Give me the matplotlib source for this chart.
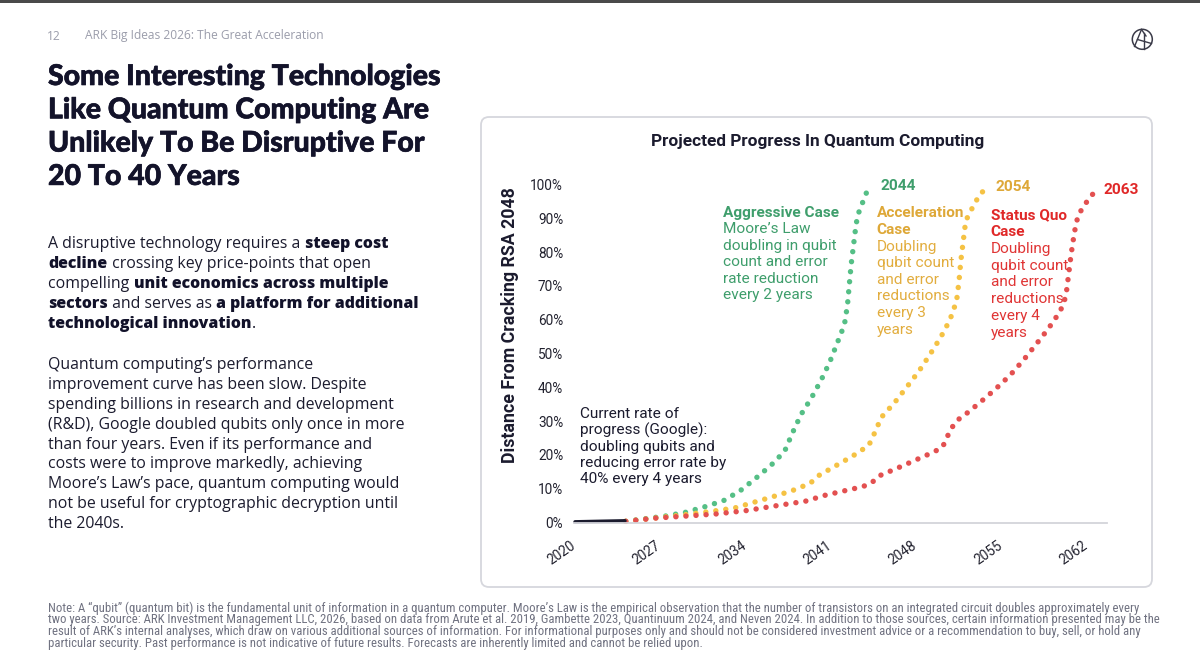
import matplotlib
matplotlib.use("Agg")
import matplotlib.pyplot as plt
import matplotlib.transforms as mtransforms
import matplotlib.patheffects as pe
from matplotlib import font_manager as fm
from matplotlib.patches import FancyBboxPatch, Circle, Rectangle
from matplotlib.lines import Line2D
from matplotlib.ticker import FuncFormatter

# ---- data (year, % distance from cracking RSA 2048) ----
black_years = [2020, 2022, 2024.1]
black_vals = [0.2, 0.35, 0.5]

green_years = [2024.16, 2027.4, 2029.05, 2030.6, 2032.2, 2033.55, 2034.8, 2036.1,
               2037.2, 2037.85, 2038.55, 2039.4, 2040.2, 2040.9, 2041.5, 2042.1,
               2042.35, 2042.5, 2042.65, 2042.85, 2043.05, 2043.2, 2043.5, 2043.8, 2044.1]
green_vals = [0.35, 1.9, 3.0, 4.6, 6.5, 9.4, 13.0, 17.0, 21.1, 26.6, 32.0, 36.9,
              42.2, 47.5, 53.0, 58.5, 64.3, 70.3, 76.2, 82.1, 88.0, 91.0, 93.8, 96.6, 99.3]

orange_years = [2024.16, 2027.0, 2029.0, 2031.4, 2033.1, 2034.6, 2036.2, 2037.8, 2039.3,
                2039.9, 2041.3, 2042.75, 2044.1, 2044.45, 2044.8, 2045.1, 2046.2, 2047.2,
                2048.2, 2049.1, 2050.0, 2050.75, 2051.3, 2051.5, 2051.65, 2051.85, 2052.05,
                2052.4, 2052.8, 2053.2, 2053.8]
orange_vals = [0.35, 1.5, 2.3, 3.4, 4.3, 5.9, 7.6, 9.4, 11.6, 13.7, 16.6, 19.6, 22.8,
               25.5, 28.3, 31.0, 35.4, 40.0, 44.7, 49.6, 54.8, 59.9, 65.5, 71.4, 77.4,
               83.3, 89.2, 91.8, 94.4, 97.1, 99.0]

red_years = [2024.16, 2026.6, 2029.1, 2031.5, 2034.0, 2036.4, 2038.9, 2040.45, 2042.0,
             2043.6, 2044.35, 2044.95, 2046.45, 2047.95, 2049.45, 2050.15, 2050.5, 2050.85,
             2051.3, 2052.0, 2053.25, 2054.5, 2055.7, 2056.8, 2057.8, 2058.8, 2059.75,
             2060.1, 2060.3, 2060.5, 2060.7, 2060.95, 2061.1, 2061.3, 2061.75, 2062.2, 2062.75]
red_vals = [0.35, 1.3, 1.9, 2.5, 3.5, 4.9, 6.3, 8.0, 9.3, 10.6, 11.8, 13.8, 16.1, 18.5,
            20.9, 22.3, 25.1, 27.7, 30.1, 31.9, 35.6, 39.5, 43.6, 48.1, 52.6, 57.2, 62.2,
            64.9, 67.8, 73.6, 79.4, 85.4, 88.3, 91.1, 93.6, 96.1, 98.2]

x_ticks = list(range(2020, 2063, 7))
y_ticks = list(range(0, 101, 10))

end_labels = ["2044", "2054", "2063"]

aggr_head = ["Aggressive Case"]
aggr_body = ["Moore\u2019s Law", "doubling in qubit", "count and error",
             "rate reduction", "every 2 years"]
accel_head = ["Acceleration", "Case"]
accel_body = ["Doubling", "qubit count", "and error", "reductions", "every 3", "years"]
sq_head = ["Status Quo", "Case"]
sq_body = ["Doubling", "qubit count", "and error", "reductions", "every 4", "years"]
current_lines = ["Current rate of", "progress (Google):", "doubling qubits and",
                 "reducing error rate by", "40% every 4 years"]

title_lines = ["Some Interesting Technologies", "Like Quantum Computing Are",
               "Unlikely To Be Disruptive For", "20 To 40 Years"]

para1 = [
    [("A disruptive technology requires a ", False), ("steep cost", True)],
    [("decline", True), (" crossing key price-points that open", False)],
    [("compelling ", False), ("unit economics across multiple", True)],
    [("sectors", True), (" and serves as ", False), ("a platform for additional", True)],
    [("technological innovation", True), (".", False)],
]
para2 = ["Quantum computing\u2019s performance",
         "improvement curve has been slow. Despite",
         "spending billions in research and development",
         "(R&D), Google doubled qubits only once in more",
         "than four years. Even if its performance and",
         "costs were to improve markedly, achieving",
         "Moore\u2019s Law\u2019s pace, quantum computing would",
         "not be useful for cryptographic decryption until",
         "the 2040s."]

footnote = [
    "Note: A \u201cqubit\u201d (quantum bit) is the fundamental unit of information in a quantum computer. Moore\u2019s Law is the empirical observation that the number of transistors on an integrated circuit doubles approximately every",
    "two years. Source: ARK Investment Management LLC, 2026, based on data from Arute et al. 2019, Gambette 2023, Quantinuum 2024, and Neven 2024. In addition to those sources, certain information presented may be the",
    "result of ARK\u2019s internal analyses, which draw on various additional sources of information. For informational purposes only and should not be considered investment advice or a recommendation to buy, sell, or hold any",
    "particular security. Past performance is not indicative of future results. Forecasts are inherently limited and cannot be relied upon.",
]

# ---- colours / fonts ----
DARK = "#1b1b2e"
GREEN, GREEN_T = "#55bf86", "#3f9e6c"
ORANGE, ORANGE_T = "#f5c244", "#e2ad3e"
RED, RED_T = "#e35050", "#e03535"
GREY = "#9b9dab"

names = {f.name for f in fm.fontManager.ttflist}


def pick(*cands):
    for c in cands:
        if c in names:
            return c
    return "DejaVu Sans"


TITLE_FONT = pick("Lato", "Inter", "Roboto")
BODY_FONT = pick("Open Sans", "Noto Sans", "Roboto")
CHART_FONT = pick("Roboto", "Open Sans")
NARROW_FONT = pick("Roboto Condensed", "Liberation Sans Narrow", "Open Sans Condensed",
                   "DejaVu Sans Condensed", "Roboto")

W, H = 1200, 671
fig = plt.figure(figsize=(W / 100, H / 100), dpi=100)
fig.patch.set_facecolor("white")
renderer = fig.canvas.get_renderer()


def put(x, y, s, **kw):
    kw.setdefault("va", "baseline")
    return fig.text(x / W, 1 - y / H, s, **kw)


def fit(t, target, vertical=False):
    bb = t.get_window_extent(renderer)
    cur = bb.height if vertical else bb.width
    t.set_fontsize(t.get_fontsize() * target / cur)
    return t.get_fontsize()


def advance(s, size, family, weight):
    a = fig.text(0, 0, "|" + s + "|", fontsize=size, family=family, fontweight=weight)
    b = fig.text(0, 0, "||", fontsize=size, family=family, fontweight=weight)
    w = a.get_window_extent(renderer).width - b.get_window_extent(renderer).width
    a.remove()
    b.remove()
    return w


# top rule and logo
ident = mtransforms.IdentityTransform()
fig.add_artist(Rectangle((0, H - 2.5), W, 2.5, transform=ident, color="#4a4a4a", lw=0))
fig.add_artist(Circle((1142.3, H - 39.3), 10, transform=ident, fill=False, ec="#3a3a48", lw=1.1))
for (x1, y1), (x2, y2) in [((1141.5, 29.5), (1134.5, 46.5)), ((1143.5, 33), (1143.5, 49.3)),
                           ((1137.5, 39.5), (1151.5, 43.5)), ((1141.5, 29.5), (1146, 36))]:
    fig.add_artist(Line2D([x1, x2], [H - y1, H - y2], transform=ident, color="#3a3a48", lw=1.0))

# header
hdr = put(85, 39.5, "ARK Big Ideas 2026: The Great Acceleration", fontsize=9,
          family=BODY_FONT, color=GREY)
hsize = fit(hdr, 241)
put(47, 39.5, "12", fontsize=hsize, family=BODY_FONT, color=GREY)

# title (a thin stroke thickens the glyphs slightly)
heavy = [pe.withStroke(linewidth=0.45, foreground="#13132a")]
t0 = put(48, 85, title_lines[0], fontsize=21, family=TITLE_FONT, fontweight="black",
         color="#13132a")
tsize = fit(t0, 392)
t0.set_path_effects(heavy)
for i, line in enumerate(title_lines[1:], start=1):
    put(48, 85 + i * 33.3, line, fontsize=tsize, family=TITLE_FONT, fontweight="black",
        color="#13132a", path_effects=heavy)

# body text
probe = put(48, 389, para2[1], fontsize=11, family=BODY_FONT, color=DARK)
bsize = fit(probe, 318)
probe.remove()
for i, segs in enumerate(para1):
    cx = 48.5
    for s, bold in segs:
        wt = "heavy" if bold else "normal"
        put(cx, 248.3 + i * 20, s, fontsize=bsize, family=BODY_FONT, fontweight=wt,
            color="#12122a" if bold else DARK)
        cx += advance(s, bsize, BODY_FONT, wt)
for i, line in enumerate(para2):
    put(48.5, 369 + i * 19.9, line, fontsize=bsize, family=BODY_FONT, color=DARK)

# footnote
f0 = put(48, 612, footnote[0], fontsize=7.5, family=NARROW_FONT, color="#707281")
fsize = min(fit(f0, 1092), 9.4)
f0.set_fontsize(fsize)
for i, line in enumerate(footnote[1:], start=1):
    put(48, 612 + i * 11.5, line, fontsize=fsize, family=NARROW_FONT, color="#707281")

# chart panel
fig.add_artist(FancyBboxPatch((481, H - 587), 1152 - 481, 587 - 117,
                              boxstyle="round,pad=0,rounding_size=8", transform=ident,
                              fc="white", ec="#d6d7dd", lw=1.3, zorder=-5))

ct = put(818, 146, "Projected Progress In Quantum Computing", fontsize=11, family=CHART_FONT,
         fontweight="bold", color=DARK, ha="center")
fit(ct, 334)

yl = fig.text(510 / W, 1 - 325 / H, "Distance From Cracking RSA 2048", rotation=90,
              ha="center", va="center", fontsize=10, family=CHART_FONT, fontweight="bold", color=DARK)
fit(yl, 276, vertical=True)

# axes
x_left, x_right, y_bot, y_top = 573.8, 1106.5, 522.5, 184.5
ax = fig.add_axes([x_left / W, 1 - y_bot / H, (x_right - x_left) / W, (y_bot - y_top) / H])
ax.set_zorder(1)
ax.patch.set_alpha(0)
ax.set_xlim(2019.9, 2063.6)
ax.set_ylim(0, 100)
for side in ["top", "right", "left"]:
    ax.spines[side].set_visible(False)
ax.spines["bottom"].set_color("#d3d4da")
ax.spines["bottom"].set_linewidth(1.3)
ax.set_xticks(x_ticks)
ax.set_yticks(y_ticks)
ax.yaxis.set_major_formatter(FuncFormatter(lambda v, p: f"{v:.0f}%"))
ax.tick_params(axis="y", length=0, pad=7.6, labelsize=9.8, labelcolor="#22222f")
ax.tick_params(axis="x", length=0, pad=11.2, labelsize=9.8, labelcolor="#22222f")
shift = mtransforms.ScaledTranslation(3 / 100, 0, fig.dpi_scale_trans)
for lab in ax.get_xticklabels():
    lab.set_rotation(35)
    lab.set_ha("right")
    lab.set_transform(lab.get_transform() + shift)
for lab in ax.get_xticklabels() + ax.get_yticklabels():
    lab.set_family(CHART_FONT)

# dotted lines: ~5 px round dots every ~10 px along the curve
dot = dict(lw=3.9, linestyle=(0, (0.01, 1.85)), dash_capstyle="round", clip_on=False)
ax.plot(green_years, green_vals, color=GREEN, **dot)
ax.plot(orange_years, orange_vals, color=ORANGE, **dot)
ax.plot(red_years, red_vals, color=RED, **dot)
ax.plot(black_years, black_vals, color=DARK, lw=2.5, solid_capstyle="round", clip_on=False)

# annotations
cp = put(580, 462.7 + 4.5, current_lines[3], fontsize=10, family=CHART_FONT, color=DARK)
asize = fit(cp, 146.7)
cp.remove()


def block(x, y0, step, head, body, color, head_color):
    for i, line in enumerate(head + body):
        bold = i < len(head)
        put(x, y0 + 4.5 + i * step, line, fontsize=asize, family=CHART_FONT,
            fontweight="bold" if bold else "normal", color=head_color if bold else color)


block(580, 413.3, 16.35, [], current_lines, DARK, DARK)
block(723, 212.3, 16.5, aggr_head, aggr_body, GREEN_T, GREEN_T)
block(876.7, 212.7, 16.65, accel_head, accel_body, ORANGE_T, "#dea838")
block(990.7, 214.7, 16.8, sq_head, sq_body, RED_T, "#e02828")

for (x, y), s, c in zip([(880.7, 189.7), (995.3, 191), (1104, 194)], end_labels,
                        [GREEN_T, "#dea838", "#e02828"]):
    put(x, y, s, fontsize=asize, family=CHART_FONT, fontweight="bold", color=c)

fig.savefig("out.png", dpi=100, facecolor="white")
